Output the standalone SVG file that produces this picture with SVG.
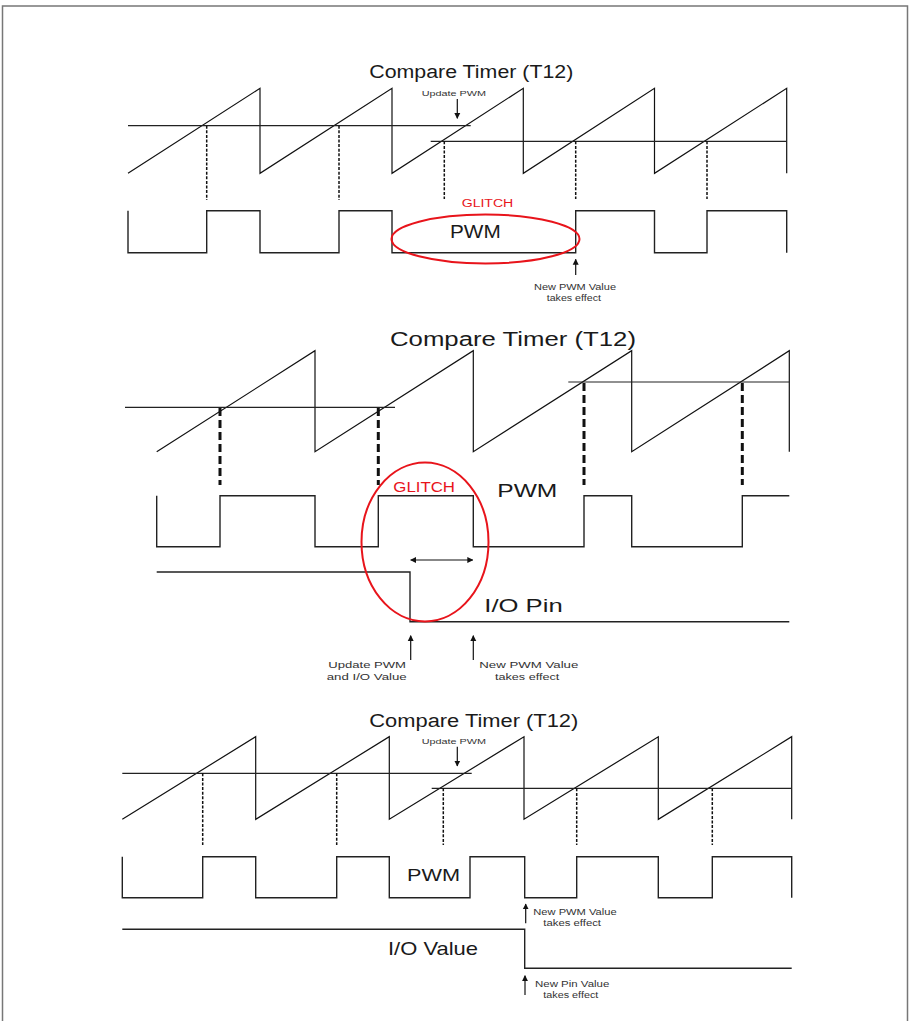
<svg xmlns="http://www.w3.org/2000/svg" width="912" height="1021" viewBox="0 0 912 1021">
<style>
.wave{fill:none;stroke:#111;stroke-width:1.2;stroke-linejoin:miter}
.sig{fill:none;stroke:#222;stroke-width:1.4}
.cmp{fill:none;stroke:#222;stroke-width:1.2}
.dash{fill:none;stroke:#111;stroke-width:1.5;stroke-dasharray:3,1.6}
.dashb{fill:none;stroke:#111;stroke-width:3;stroke-dasharray:8,4}
.glitch{fill:none;stroke:#e8141b;stroke-width:2}
.t{font-family:"Liberation Sans",Arial,sans-serif;fill:#1a1a1a}
.s{font-family:"Liberation Sans",Arial,sans-serif;fill:#333}
.r{font-family:"Liberation Sans",Arial,sans-serif;fill:#e8141b}
.arr{fill:none;stroke:#111;stroke-width:1.2}
</style>
<defs>
<marker id="ah" viewBox="0 0 10 10" refX="9" refY="5" markerWidth="6" markerHeight="7" markerUnits="userSpaceOnUse" orient="auto-start-reverse">
<path d="M0,0 L10,5 L0,10 Z" fill="#111"/>
</marker>
</defs>
<rect x="2.5" y="6" width="905" height="1040" fill="#fff" stroke="#777" stroke-width="1.5"/>

<g id="panel1">
<text class="t" x="369.3" y="78.3" font-size="17.6" textLength="204" lengthAdjust="spacingAndGlyphs">Compare Timer (T12)</text>
<path class="wave" d="M128,173.3 L260,88.3 L260,173.3 L392,88.3 L392,173.3 L523.3,88.3 L523.3,173.3 L654.5,88.3 L654.5,173.3 L786.7,88.3 L786.7,173.3"/>
<line class="cmp" x1="128" y1="125.7" x2="470.7" y2="125.7"/>
<line class="cmp" x1="430.7" y1="141.3" x2="786.7" y2="141.3"/>
<line class="dash" x1="206.7" y1="125.7" x2="206.7" y2="200"/>
<line class="dash" x1="339" y1="125.7" x2="339" y2="200"/>
<line class="dash" x1="444.3" y1="141.3" x2="444.3" y2="199"/>
<line class="dash" x1="575.7" y1="141.3" x2="575.7" y2="199"/>
<line class="dash" x1="707" y1="141.3" x2="707" y2="199"/>
<path class="sig" d="M128,210.7 L128,252.7 L206.7,252.7 L206.7,210.7 L260,210.7 L260,252.7 L339,252.7 L339,210.7 L392,210.7 L392,252.7 L575.7,252.7 L575.7,210.7 L654.5,210.7 L654.5,252.7 L707,252.7 L707,210.7 L786.7,210.7 L786.7,252.7"/>
<ellipse class="glitch" cx="485.5" cy="239" rx="94" ry="24.5"/>
<text class="r" x="461.7" y="206.7" font-size="11.7" textLength="51.6" lengthAdjust="spacingAndGlyphs">GLITCH</text>
<text class="t" x="450" y="238.3" font-size="17.7" textLength="50.7" lengthAdjust="spacingAndGlyphs">PWM</text>
<text class="s" x="421.7" y="95.7" font-size="8" textLength="64.3" lengthAdjust="spacingAndGlyphs">Update PWM</text>
<text class="s" x="534" y="290" font-size="9" textLength="82" lengthAdjust="spacingAndGlyphs">New PWM Value</text>
<text class="s" x="546.7" y="300.7" font-size="9" textLength="54.3" lengthAdjust="spacingAndGlyphs">takes effect</text>
</g>

<g id="panel2">
<text class="t" x="390" y="346" font-size="20" textLength="246" lengthAdjust="spacingAndGlyphs">Compare Timer (T12)</text>
<path class="wave" d="M156.7,451.7 L315,350.7 L315,451.7 L473.3,350.7 L473.3,451.7 L631.7,350.7 L631.7,451.7 L789.3,350.7 L789.3,451.7"/>
<line class="cmp" x1="125" y1="407.3" x2="395" y2="407.3"/>
<line class="cmp" x1="568.3" y1="382" x2="789.3" y2="382"/>
<line class="dashb" x1="220" y1="408" x2="220" y2="485"/>
<line class="dashb" x1="378.3" y1="408" x2="378.3" y2="485"/>
<line class="dashb" x1="584" y1="383" x2="584" y2="485"/>
<line class="dashb" x1="742.3" y1="383" x2="742.3" y2="485"/>
<path class="sig" d="M156.7,495.7 L156.7,546.7 L220,546.7 L220,495.7 L315,495.7 L315,546.7 L378.3,546.7 L378.3,495.7 L473.3,495.7 L473.3,546.7 L584,546.7 L584,495.7 L631.7,495.7 L631.7,546.7 L742.3,546.7 L742.3,495.7 L789.3,495.7"/>
<path class="sig" d="M156.7,572 L410,572 L410,621.7 L789.3,621.7"/>
<ellipse class="glitch" cx="425" cy="542" rx="63.5" ry="79.5"/>
<text class="r" x="393.3" y="491.7" font-size="14" textLength="61.7" lengthAdjust="spacingAndGlyphs">GLITCH</text>
<text class="t" x="497.3" y="496.7" font-size="18.6" textLength="60" lengthAdjust="spacingAndGlyphs">PWM</text>
<text class="t" x="484.3" y="611.7" font-size="18.6" textLength="78.4" lengthAdjust="spacingAndGlyphs">I/O Pin</text>
<text class="s" x="328.3" y="667.7" font-size="9.5" textLength="77.7" lengthAdjust="spacingAndGlyphs">Update PWM</text>
<text class="s" x="326.7" y="680" font-size="9.5" textLength="80" lengthAdjust="spacingAndGlyphs">and I/O Value</text>
<text class="s" x="479.3" y="668.3" font-size="9.5" textLength="99" lengthAdjust="spacingAndGlyphs">New PWM Value</text>
<text class="s" x="495" y="680" font-size="9.5" textLength="64.3" lengthAdjust="spacingAndGlyphs">takes effect</text>
</g>

<g id="panel3">
<text class="t" x="369.3" y="727.3" font-size="17.6" textLength="209" lengthAdjust="spacingAndGlyphs">Compare Timer (T12)</text>
<path class="wave" d="M122.3,819.3 L255.7,736.7 L255.7,819.3 L389.3,736.7 L389.3,819.3 L524,736.7 L524,819.3 L658.3,736.7 L658.3,819.3 L791.7,736.7 L791.7,819.3"/>
<line class="cmp" x1="122.3" y1="773.3" x2="471.7" y2="773.3"/>
<line class="cmp" x1="431.7" y1="788.3" x2="791.7" y2="788.3"/>
<line class="dash" x1="202.7" y1="773.3" x2="202.7" y2="845"/>
<line class="dash" x1="336.7" y1="773.3" x2="336.7" y2="845"/>
<line class="dash" x1="443.3" y1="788.3" x2="443.3" y2="845"/>
<line class="dash" x1="576.7" y1="788.3" x2="576.7" y2="845"/>
<line class="dash" x1="712.3" y1="788.3" x2="712.3" y2="845"/>
<path class="sig" d="M122.3,856.7 L122.3,897.7 L202.7,897.7 L202.7,856.7 L255.7,856.7 L255.7,897.7 L336.7,897.7 L336.7,856.7 L389.3,856.7 L389.3,897.7 L470,897.7 L470,856.7 L524.7,856.7 L524.7,897.7 L576.7,897.7 L576.7,856.7 L658.3,856.7 L658.3,897.7 L712.3,897.7 L712.3,856.7 L791.7,856.7 L791.7,897.7"/>
<path class="sig" d="M122.3,929.3 L524.7,929.3 L524.7,968.3 L791.7,968.3"/>
<text class="t" x="407" y="880.7" font-size="16" textLength="53" lengthAdjust="spacingAndGlyphs">PWM</text>
<text class="t" x="388" y="955" font-size="17.7" textLength="90" lengthAdjust="spacingAndGlyphs">I/O Value</text>
<text class="s" x="421.7" y="744" font-size="8" textLength="64.3" lengthAdjust="spacingAndGlyphs">Update PWM</text>
<text class="s" x="533.3" y="915" font-size="8.5" textLength="83.3" lengthAdjust="spacingAndGlyphs">New PWM Value</text>
<text class="s" x="543.3" y="926" font-size="8.5" textLength="57.7" lengthAdjust="spacingAndGlyphs">takes effect</text>
<text class="s" x="535" y="986.7" font-size="8.5" textLength="74.3" lengthAdjust="spacingAndGlyphs">New Pin Value</text>
<text class="s" x="543.3" y="997.7" font-size="8.5" textLength="55" lengthAdjust="spacingAndGlyphs">takes effect</text>
</g>

<g id="connectors">
<line class="arr" x1="457.3" y1="99" x2="457.3" y2="118.3" marker-end="url(#ah)"/>
<line class="arr" x1="575.7" y1="275" x2="575.7" y2="259.3" marker-end="url(#ah)"/>
<line class="arr" x1="410.7" y1="560" x2="472.7" y2="560" marker-start="url(#ah)" marker-end="url(#ah)"/>
<line class="arr" x1="410.7" y1="660" x2="410.7" y2="635.7" marker-end="url(#ah)"/>
<line class="arr" x1="473.3" y1="660" x2="473.3" y2="635.7" marker-end="url(#ah)"/>
<line class="arr" x1="457.3" y1="746.7" x2="457.3" y2="766" marker-end="url(#ah)"/>
<line class="arr" x1="525.7" y1="923.3" x2="525.7" y2="904" marker-end="url(#ah)"/>
<line class="arr" x1="525" y1="995" x2="525" y2="975.7" marker-end="url(#ah)"/>
</g>
</svg>
